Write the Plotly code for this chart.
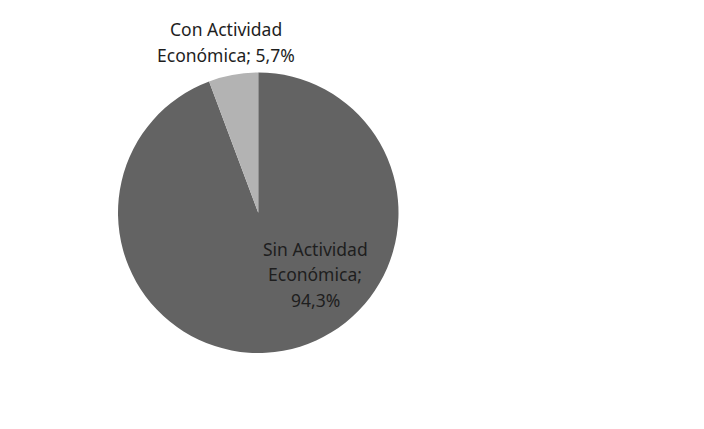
import plotly.graph_objects as go

# Share of population by economic activity (%)
categories = ["Sin Actividad Económica", "Con Actividad Económica"]
values = [94.3, 5.7]
colors = ["#636363", "#b3b3b3"]

W, H = 704, 429

fig = go.Figure(
    go.Pie(
        labels=categories,
        values=values,
        sort=False,
        direction="clockwise",
        rotation=0,
        marker=dict(colors=colors, line=dict(width=0)),
        textinfo="none",
        hoverinfo="label+percent",
        showlegend=False,
        domain=dict(x=[117.5 / W, 399 / W], y=[(H - 353) / H, (H - 72.5) / H]),
    )
)


def fmt(v):
    return f"{v:.1f}".replace(".", ",") + "%"


font = dict(family="Noto Sans, Open Sans, sans-serif", size=17.5, color="#1e1e1e")

# Label lines: (text, x centre px, y centre px)
lines = [
    ("Con Actividad", 225.5, 29),
    (f"Económica; {fmt(values[1])}", 225.5, 55),
    ("Sin Actividad", 315, 249),
    ("Económica;", 315, 274),
    (fmt(values[0]), 315, 300),
]
for txt, x, y in lines:
    fig.add_annotation(
        text=txt, x=x / W, y=1 - y / H, xref="paper", yref="paper",
        xanchor="center", yanchor="middle", showarrow=False, font=font,
    )

fig.update_layout(
    width=W, height=H,
    margin=dict(l=0, r=0, t=0, b=0),
    paper_bgcolor="white", plot_bgcolor="white",
)

fig.write_html("out.html")
